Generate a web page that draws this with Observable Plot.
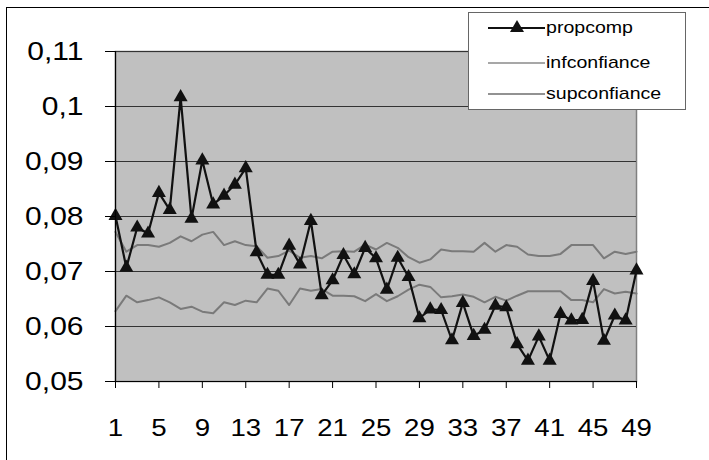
<!DOCTYPE html>
<html>
<head>
<meta charset="utf-8">
<script src="https://cdn.jsdelivr.net/npm/d3@7"></script>
<script src="https://cdn.jsdelivr.net/npm/@observablehq/plot@0.6"></script>
<style>
  html, body { margin: 0; padding: 0; background: #fff; }
  #wrap { position: relative; width: 709px; height: 460px; overflow: hidden; font-family: "Liberation Sans", Arial, sans-serif; }
  #frame { position: absolute; left: 6px; top: 7px; width: 720px; height: 470px; border-left: 1px solid #000; border-top: 1px solid #000; box-sizing: border-box; }
  #chart { position: absolute; left: 0; top: 0; }
  #legend { position: absolute; left: 0; top: 0; }
</style>
</head>
<body>
<div id="wrap">
  <div id="frame"></div>
  <div id="chart"></div>
  <svg id="legend" width="709" height="460"></svg>
</div>
<script>
const periods = d3.range(1, 50);
const propcomp = [0.0801,0.0707,0.0780,0.0769,0.0843,0.0812,0.1017,0.0796,0.0902,0.0822,
  0.0838,0.0858,0.0888,0.0735,0.0694,0.0694,0.0747,0.0713,0.0792,0.0657,
  0.0684,0.0730,0.0695,0.0743,0.0724,0.0667,0.0725,0.0690,0.0615,0.0631,
  0.0630,0.0575,0.0643,0.0583,0.0594,0.0638,0.0635,0.0568,0.0538,0.0582,
  0.0538,0.0623,0.0611,0.0612,0.0683,0.0574,0.0620,0.0611,0.0702];
const infconfiance = [0.0628,0.0656,0.0644,0.0648,0.0653,0.0644,0.0632,0.0636,0.0627,0.0624,
  0.0644,0.0639,0.0647,0.0644,0.0669,0.0665,0.0639,0.0669,0.0665,0.0668,
  0.0656,0.0656,0.0655,0.0646,0.0659,0.0646,0.0655,0.0667,0.0676,0.0672,
  0.0653,0.0655,0.0658,0.0654,0.0644,0.0654,0.0647,0.0656,0.0664,0.0664,
  0.0664,0.0664,0.0648,0.0648,0.0644,0.0668,0.0660,0.0663,0.0660];
const supconfiance = [0.0772,0.0736,0.0748,0.0748,0.0745,0.0752,0.0764,0.0755,0.0767,0.0772,
  0.0748,0.0755,0.0748,0.0746,0.0725,0.0728,0.0738,0.0725,0.0728,0.0724,
  0.0736,0.0737,0.0736,0.0749,0.0740,0.0752,0.0743,0.0726,0.0716,0.0722,
  0.0740,0.0737,0.0737,0.0736,0.0752,0.0736,0.0748,0.0745,0.0731,0.0728,
  0.0728,0.0732,0.0748,0.0748,0.0748,0.0724,0.0736,0.0732,0.0736];
const xTicks = [1,5,9,13,17,21,25,29,33,37,41,45,49];
const yTicks = [0.05,0.06,0.07,0.08,0.09,0.10,0.11];
const seriesNames = ["propcomp","infconfiance","supconfiance"];

const rows = (vals) => periods.map((p, i) => ({x: p, y: vals[i]}));
const fmt = d => String(+d.toFixed(2)).replace(".", ",");

const chart = Plot.plot({
  width: 709,
  height: 460,
  marginLeft: 115,
  marginRight: 73,
  marginTop: 51,
  marginBottom: 79,
  style: {fontFamily: "'Liberation Sans', Arial, sans-serif", background: "transparent", overflow: "visible"},
  x: {type: "linear", domain: [1, 49]},
  y: {domain: [0.05, 0.11]},
  marks: [
    Plot.frame({fill: "#c0c0c0", stroke: "#808080", strokeWidth: 1.5}),
    Plot.ruleY(yTicks, {stroke: "#333", strokeWidth: 1.2}),
    Plot.line(rows(infconfiance), {x: "x", y: "y", stroke: "#7a7a7a", strokeWidth: 2}),
    Plot.line(rows(supconfiance), {x: "x", y: "y", stroke: "#7a7a7a", strokeWidth: 2}),
    Plot.line(rows(propcomp), {x: "x", y: "y", stroke: "#111", strokeWidth: 2.2}),
    Plot.dot(rows(propcomp), {x: "x", y: "y", symbol: "triangle", r: 5.2, fill: "#111", stroke: "none"}),
    Plot.ruleX([1], {stroke: "#000", strokeWidth: 1.2}),
    Plot.ruleY([0.05], {stroke: "#000", strokeWidth: 1.2}),
    Plot.axisY({ticks: yTicks, tickSize: 10, tickPadding: 22, tickFormat: fmt, fontSize: 25, stroke: "#000", color: "#000", label: null}),
    Plot.axisX({ticks: xTicks, tickSize: 7, tickPadding: 31, tickFormat: d => String(d), fontSize: 23, stroke: "#000", color: "#000", label: null})
  ]
});
document.getElementById("chart").appendChild(chart);

// horizontal stretch of the tick labels, as in the reference
chart.querySelectorAll("text").forEach(t => {
  const L = t.getComputedTextLength();
  if (L > 0) {
    t.setAttribute("textLength", (L * 1.2).toFixed(1));
    t.setAttribute("lengthAdjust", "spacingAndGlyphs");
  }
});

// legend
const lg = d3.select("#legend");
lg.append("rect").attr("x", 468.5).attr("y", 12.5).attr("width", 217).attr("height", 97)
  .attr("fill", "#fff").attr("stroke", "#666").attr("stroke-width", 1);
const rowsY = [28, 63, 94];
const styles = [
  {stroke: "#111", w: 2.2, tri: true},
  {stroke: "#8a8a8a", w: 1.5, tri: false},
  {stroke: "#6e6e6e", w: 1.5, tri: false}
];
seriesNames.forEach((name, i) => {
  const yy = rowsY[i];
  lg.append("line").attr("x1", 488).attr("x2", 545).attr("y1", yy).attr("y2", yy)
    .attr("stroke", styles[i].stroke).attr("stroke-width", styles[i].w);
  if (styles[i].tri) {
    lg.append("path").attr("d", d3.symbol(d3.symbolTriangle, Math.PI * 5.2 * 5.2)())
      .attr("transform", `translate(517,${yy})`).attr("fill", "#111");
  }
  const t = lg.append("text").attr("x", 546).attr("y", yy + 5)
    .attr("font-size", 17).attr("font-family", "'Liberation Sans', Arial, sans-serif")
    .attr("fill", "#000").text(name);
  const L = t.node().getComputedTextLength();
  t.attr("textLength", (L * 1.15).toFixed(1)).attr("lengthAdjust", "spacingAndGlyphs");
});
</script>
</body>
</html>
